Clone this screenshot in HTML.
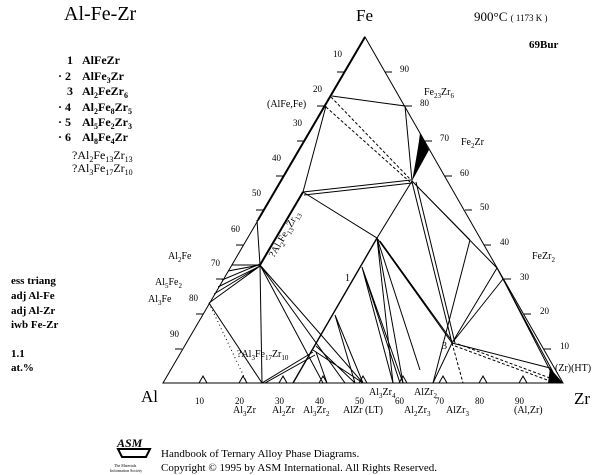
<!DOCTYPE html>
<html><head><meta charset="utf-8"><style>
body{margin:0;background:#fff;}
svg{display:block;font-family:"Liberation Serif",serif;}
</style></head><body>
<svg width="600" height="475" viewBox="0 0 600 475" xmlns="http://www.w3.org/2000/svg">
<g fill="#000">
<text x="64" y="20" font-size="20">Al-Fe-Zr</text>
<g font-size="12" font-weight="bold">
<text x="67" y="64">1</text><text x="82" y="64">AlFeZr</text>
<text x="58" y="80">· 2</text><text x="82" y="80">AlFe<tspan font-size="8" dy="3">3</tspan><tspan dy="-3">Zr</tspan></text>
<text x="67" y="95">3</text><text x="82" y="95">Al<tspan font-size="8" dy="3">2</tspan><tspan dy="-3">FeZr</tspan><tspan font-size="8" dy="3">6</tspan></text>
<text x="58" y="111">· 4</text><text x="82" y="111">Al<tspan font-size="8" dy="3">2</tspan><tspan dy="-3">Fe</tspan><tspan font-size="8" dy="3">8</tspan><tspan dy="-3">Zr</tspan><tspan font-size="8" dy="3">5</tspan></text>
<text x="58" y="126">· 5</text><text x="82" y="126">Al<tspan font-size="8" dy="3">5</tspan><tspan dy="-3">Fe</tspan><tspan font-size="8" dy="3">2</tspan><tspan dy="-3">Zr</tspan><tspan font-size="8" dy="3">3</tspan></text>
<text x="58" y="141">· 6</text><text x="82" y="141">Al<tspan font-size="8" dy="3">8</tspan><tspan dy="-3">Fe</tspan><tspan font-size="8" dy="3">4</tspan><tspan dy="-3">Zr</tspan></text>
</g>
<g font-size="12">
<text x="72" y="159">?Al<tspan font-size="8" dy="3">2</tspan><tspan dy="-3">Fe</tspan><tspan font-size="8" dy="3">13</tspan><tspan dy="-3">Zr</tspan><tspan font-size="8" dy="3">13</tspan></text>
<text x="72" y="172">?Al<tspan font-size="8" dy="3">3</tspan><tspan dy="-3">Fe</tspan><tspan font-size="8" dy="3">17</tspan><tspan dy="-3">Zr</tspan><tspan font-size="8" dy="3">10</tspan></text>
</g>
<g font-size="11" font-weight="bold">
<text x="11" y="284">ess  triang</text>
<text x="11" y="299">adj  Al-Fe</text>
<text x="11" y="314">adj  Al-Zr</text>
<text x="11" y="328">iwb  Fe-Zr</text>
<text x="11" y="357">1.1</text>
<text x="11" y="371">at.%</text>
</g>
<text x="356" y="21" font-size="17">Fe</text>
<text x="474" y="21" font-size="13">900°C <tspan font-size="9">( 1173  K )</tspan></text>
<text x="529" y="48" font-size="11" font-weight="bold">69Bur</text>
<text x="141" y="402" font-size="17">Al</text>
<text x="574" y="404" font-size="17">Zr</text>
<g font-size="9">
<text x="333" y="57">10</text><text x="313" y="92">20</text><text x="293" y="126">30</text><text x="272" y="161">40</text><text x="252" y="196">50</text><text x="231" y="232">60</text><text x="211" y="266">70</text><text x="189" y="301">80</text><text x="170" y="337">90</text>
<text x="400" y="72">90</text><text x="420" y="106">80</text><text x="440" y="141">70</text><text x="460" y="176">60</text><text x="480" y="210">50</text><text x="500" y="245">40</text><text x="520" y="280">30</text><text x="540" y="314">20</text><text x="560" y="349">10</text>
<text x="195" y="404">10</text><text x="235" y="404">20</text><text x="275" y="404">30</text><text x="315" y="404">40</text><text x="355" y="404">50</text><text x="395" y="404">60</text><text x="435" y="404">70</text><text x="475" y="404">80</text><text x="515" y="404">90</text>
</g>
<g font-size="10">
<text x="267" y="107">(AlFe,Fe)</text>
<text x="424" y="95">Fe<tspan font-size="7" dy="3">23</tspan><tspan dy="-3">Zr</tspan><tspan font-size="7" dy="3">6</tspan></text>
<text x="461" y="145">Fe<tspan font-size="7" dy="3">2</tspan><tspan dy="-3">Zr</tspan></text>
<text x="532" y="259">FeZr<tspan font-size="7" dy="3">2</tspan></text>
<text x="168" y="259">Al<tspan font-size="7" dy="3">2</tspan><tspan dy="-3">Fe</tspan></text>
<text x="155" y="285">Al<tspan font-size="7" dy="3">5</tspan><tspan dy="-3">Fe</tspan><tspan font-size="7" dy="3">2</tspan></text>
<text x="148" y="302">Al<tspan font-size="7" dy="3">3</tspan><tspan dy="-3">Fe</tspan></text>
<text x="237" y="357">?Al<tspan font-size="7" dy="3">3</tspan><tspan dy="-3">Fe</tspan><tspan font-size="7" dy="3">17</tspan><tspan dy="-3">Zr</tspan><tspan font-size="7" dy="3">10</tspan></text>
<text transform="translate(274,258) rotate(-60)">?Al<tspan font-size="7" dy="3">2</tspan><tspan dy="-3">Fe</tspan><tspan font-size="7" dy="3">13</tspan><tspan dy="-3">Zr</tspan><tspan font-size="7" dy="3">13</tspan></text>
<text x="345" y="281">1</text>
<text x="442" y="349">3</text>
<text x="555" y="371">(Zr)(HT)</text>
<text x="233" y="413">Al<tspan font-size="7" dy="3">3</tspan><tspan dy="-3">Zr</tspan></text>
<text x="272" y="413">Al<tspan font-size="7" dy="3">2</tspan><tspan dy="-3">Zr</tspan></text>
<text x="303" y="413">Al<tspan font-size="7" dy="3">3</tspan><tspan dy="-3">Zr</tspan><tspan font-size="7" dy="3">2</tspan></text>
<text x="343" y="413">AlZr (LT)</text>
<text x="369" y="395">Al<tspan font-size="7" dy="3">3</tspan><tspan dy="-3">Zr</tspan><tspan font-size="7" dy="3">4</tspan></text>
<text x="414" y="395">AlZr<tspan font-size="7" dy="3">2</tspan></text>
<text x="404" y="413">Al<tspan font-size="7" dy="3">2</tspan><tspan dy="-3">Zr</tspan><tspan font-size="7" dy="3">3</tspan></text>
<text x="446" y="413">AlZr<tspan font-size="7" dy="3">3</tspan></text>
<text x="514" y="413">(Al,Zr)</text>
</g>
<text x="161" y="457" font-size="11">Handbook of Ternary Alloy Phase Diagrams.</text>
<text x="161" y="471" font-size="11">Copyright © 1995 by ASM International. All Rights Reserved.</text>
<text x="117" y="447" font-size="12" font-weight="bold" font-style="italic">ASM</text>
<path d="M118 449 L150 449 L146 457 L122 457 Z" fill="none" stroke="#000" stroke-width="2"/>
<text x="114" y="467" font-size="4">The Materials</text>
<text x="110" y="472" font-size="4">Information Society</text>
</g>
<g stroke="#000" fill="none" stroke-width="1">
<path d="M365 37 L163 383 L563 383 Z"/>
<path d="M365 37 L258 220" stroke-width="2"/>
<path d="M337 72h7 M317 106h7 M297 141h7 M276 176h7 M256 210h7 M236 245h7 M216 279h7 M196 314h7 M175 349h7"/>
<path d="M392 72h-7 M412 106h-7 M432 141h-7 M452 176h-7 M472 210h-7 M491 245h-7 M511 279h-7 M531 314h-7 M551 349h-7"/>
<path d="M199 383l4-7 4 7 M239 383l4-7 4 7 M279 383l4-7 4 7 M319 383l4-7 4 7 M359 383l4-7 4 7 M399 383l4-7 4 7 M439 383l4-7 4 7 M479 383l4-7 4 7 M519 383l4-7 4 7"/>
<path d="M332 96 L405 106 L412 181"/>
<path d="M326 106 L303 192"/>
<path d="M331 97 L411 180 M326 107 L410 182" stroke-dasharray="3,2"/>
<path d="M303 192 L411 180 M304 195 L412 183"/>
<path d="M303 192 L260 265" stroke-width="2"/>
<path d="M303 192 L377 238 L412 181"/>
<path d="M412 181 L497 268 M412 181 L470 240"/>
<path d="M412 182 L452 343 M416 182 L455 343"/>
<path d="M257 220 L260 265 L262 383"/>
<path d="M232 265 L260 265 M228 271 L260 265 M222 280 L260 264 M218 287 L260 266 M214 294 L260 266 M209 303 L260 266"/>
<path d="M209 303 L262 383"/>
<path d="M209 303 L247 383" stroke-dasharray="1,3"/>
<path d="M260 265 L323 383 M260 265 L345 383 M260 265 L363 383"/>
<path d="M262 383 L313 352 M265 383 L315 355"/>
<path d="M293 383 L377 238" stroke-width="1.4"/>
<path d="M313 350 L363 383 M316 346 L355 383 M335 315 L363 383 M335 315 L355 383 M316 352 L327 383"/>
<path d="M362 267 L393 383 M362 267 L400 383 M362 267 L403 383"/>
<path d="M377 238 L393 383 M377 238 L403 383 M377 238 L420 370 M377 238 L452 343 M380 241 L452 341"/>
<path d="M452 343 L433 383 M452 343 L497 268 M452 343 L503 279"/>
<path d="M452 343 L463 383" stroke-dasharray="3,2"/>
<path d="M470 240 L433 383"/>
<path d="M497 268 L553 372 M503 279 L553 376"/>
<path d="M452 343 L550 368"/>
<path d="M455 346 L550 381 M458 344 L550 378" stroke-dasharray="3,2"/>
</g>
<path d="M420 133 L429 150 L412 181 Q418 150 420 133 Z" fill="#000"/>
<path d="M550 368 L563 383 L548 383 Z" fill="#000"/>
</svg>
</body></html>
